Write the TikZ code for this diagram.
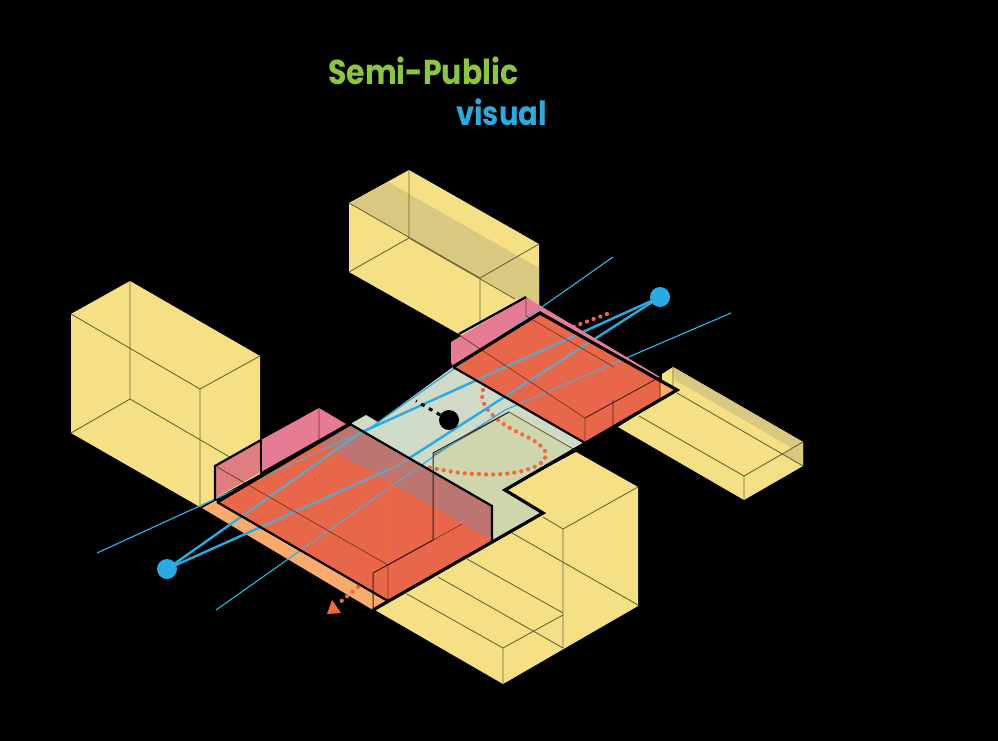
\documentclass[tikz,border=0pt]{standalone}
\usepackage{fontspec}
\setmainfont{Poppins}
\definecolor{ye}{HTML}{F5E086}
\definecolor{shd}{HTML}{D9C87F}
\definecolor{edge}{HTML}{6F6434}
\definecolor{rd}{HTML}{E8674A}
\definecolor{pk}{HTML}{E57C93}
\definecolor{pk2}{HTML}{DF7D80}
\definecolor{wallc}{HTML}{BC7570}
\definecolor{gr}{HTML}{CFDBC6}
\definecolor{sand}{HTML}{CFD5AC}
\definecolor{og}{HTML}{F9AB6E}
\definecolor{blu}{HTML}{29ABE2}
\definecolor{blg}{HTML}{6FA0BC}
\definecolor{routec}{HTML}{F0693A}
\definecolor{grn}{HTML}{8CC63F}
\tikzset{
 thinl/.style={edge,line width=.9pt},
 faint/.style={draw=black!50!rd,line width=.7pt},
 thick1/.style={black,line width=3.2pt,line join=miter},
 mid1/.style={black,line width=2.2pt},
 dotl/.style={routec,line width=4.2pt,line cap=round,dash pattern=on 0.1pt off 7pt},
 dotv/.style={circle,inner sep=0pt,minimum size=20pt},
 sight/.style={line width=1.2pt},
 sightb/.style={line width=2.4pt},
}
\newcommand{\sightlines}[1]{%
 \draw[sight,#1] (97,553)--(370,428)--(613,257);
 \draw[sight,#1] (216,610)--(440,452)--(505,410)--(731,313);
 \draw[sightb,#1] (A.center)--(360,433)--(B.center);
 \draw[sightb,#1] (A.center)--(397,466)--(B.center);
}
\begin{document}
\begin{tikzpicture}[x=1pt,y=-1pt]
\useasboundingbox (0,0) rectangle (998,741);
\fill[black] (0,0) rectangle (998,741);
\node[text=grn,font=\bfseries\fontsize{30}{31}\selectfont,anchor=base west,inner sep=0pt] (t1) at (328,85) {\scalebox{1}[1.15]{Semi-Public}};
\node[text=blu,font=\bfseries\fontsize{29}{30}\selectfont,anchor=base west,inner sep=0pt] (t2) at (456,125) {\scalebox{1}[1.15]{visual}};
\coordinate (A) at (167,569);
\coordinate (B) at (660,297);
% left box
\fill[ye] (71,314)--(130,281)--(260,356)--(260,474)--(200,507)--(71,433)--cycle;
\draw[thinl] (71,314)--(200,389)--(260,356) (200,389)--(200,507) (130,281)--(130,399) (71,433)--(130,399)--(240,463);
% top box
\fill[ye] (349,203)--(409,170)--(539,244)--(539,310)--(480,346)--(349,272)--cycle;
\fill[shd] (350,203)--(388,182)--(539,268)--(539,312)--(480,278)--cycle;
\draw[thinl] (349,203)--(480,278)--(539,244) (480,278)--(480,346) (409,170)--(409,238) (349,272)--(409,238)--(515,299);
% right low box
\fill[ye] (662,374)--(673,367)--(803,442)--(803,466)--(744,500)--(618,427)--(677,390)--(662,382)--cycle;
\fill[shd] (673,367)--(803,442)--(803,466)--(783,454)--(792,448)--(675,380)--cycle;
\draw[thinl] (673,367)--(673,391) (677,393)--(803,466) (639,416)--(744,476)--(803,442) (744,476)--(744,500);
% front box
\fill[ye] (505,490)--(576,452)--(638,487)--(638,606)--(503,684)--(375,610)--(543,513)--cycle;
\draw[thinl] (543,517)--(563,529)--(638,487) (563,529)--(563,648) (512,533)--(638,605) (467,559)--(563,613) (438,577)--(563,648) (407,594)--(503,648)--(563,615) (503,648)--(503,684);
% plaza
\fill[gr] (352,423)--(366,415)--(378,422)--(453,367)--(585,443)--(575,450)--(505,490)--(543,513)--(373,610)--cycle;
\fill[sand] (509,412)--(575,450)--(505,490)--(543,513)--(493,541)--(493,506)--(433,470)--(433,455)--cycle;
\draw[thinl] (509,412)--(575,450) (509,412)--(433,455);
% orange strip
\fill[og] (202,508)--(217,500)--(388,600)--(373,610)--cycle;
\fill[og] (660,380)--(677,390)--(660,400)--cycle;
% walk route, visible parts
\draw[dotl] (607,314) -- (570,328);
\draw[dotl] (483,390) .. controls (478,405) and (495,420) .. (515,431) .. controls (535,440) and (552,450) .. (544,460) .. controls (535,472) and (500,476) .. (480,474) .. controls (450,474) and (425,465) .. (400,463);
\draw[dotl] (358,587) -- (338,604);
\fill[routec] (332,600)--(327,614)--(341,613)--cycle;
% sight lines under the overlays
\sightlines{blu}
% pink walls
\fill[pk2] (215,466)--(261,440)--(261,472)--(215,498)--cycle;
\fill[pk] (261,440)--(319,408)--(346,424)--(261,472)--cycle;
\fill[pk] (451,342)--(526,297)--(539,305)--(660,377)--(660,381)--(540,313)--(453,367)--(451,362)--cycle;
% red floors
\fill[rd] (217,502)--(350,424)--(492,506)--(492,541)--(388,601)--cycle;
\fill[wallc] (320,443)--(350,424)--(492,506)--(492,540)--cycle;
\fill[rd] (453,367)--(540,313)--(660,381)--(660,400)--(585,443)--cycle;
\begin{scope}
\clip (217,502)--(350,424)--(492,506)--(492,541)--(388,601)--cycle (215,466)--(319,408)--(346,424)--(215,498)--cycle (453,367)--(540,313)--(660,381)--(660,400)--(585,443)--cycle (451,342)--(526,297)--(539,305)--(540,313)--(453,367)--(451,362)--cycle;
\sightlines{blg}
\end{scope}
% faint route under red
\draw[routec,line width=1.6pt] (393,468)--(389,500)--(387,560);
\draw[routec,line width=3pt,line cap=round,dash pattern=on 0.1pt off 6pt] (396,465)--(407,461);
\draw[routec,line width=3pt,line cap=round,dash pattern=on 0.1pt off 6pt] (387,560)--(358,587);
% faint lines in platforms
\draw[faint] (217,467)--(388,565)--(388,600) (388,565)--(462,524) (319,408)--(319,443);
\draw[faint] (459,335)--(585,418)--(585,443) (526,297)--(526,316)--(614,367);
\draw[black!70!rd,line width=.9pt] (585,418)--(660,377) (613,400)--(613,430) (660,377)--(660,400);
\draw[black!75!rd,line width=1pt] (373,573)--(433,540)--(433,453)--(509,412) (373,573)--(373,610);
\draw[black,line width=1.1pt] (261,440)--(261,472);
% black outlines
\draw[mid1] (215,500)--(215,466)--(261,440);
\draw[mid1] (217,502)--(388,601);
\draw[mid1] (350,424)--(492,506)--(492,541);
\draw[mid1] (453,367)--(585,443);
\draw[mid1] (459,334)--(526,297);
\draw[thick1] (217,502)--(350,424);
\draw[thick1] (453,367)--(540,313)--(677,390)--(505,490)--(543,513)--(373,610);
% view points, person
\node[dotv,fill=blu] (va) at (A) {};
\node[dotv,fill=blu] (vb) at (B) {};
\node[dotv,fill=black] (pers) at (449,420) {};
\coordinate (pe) at (416,401);
\draw[black,line width=3pt,dash pattern=on 4pt off 5pt] (pers)--(pe);
\end{tikzpicture}
\end{document}
